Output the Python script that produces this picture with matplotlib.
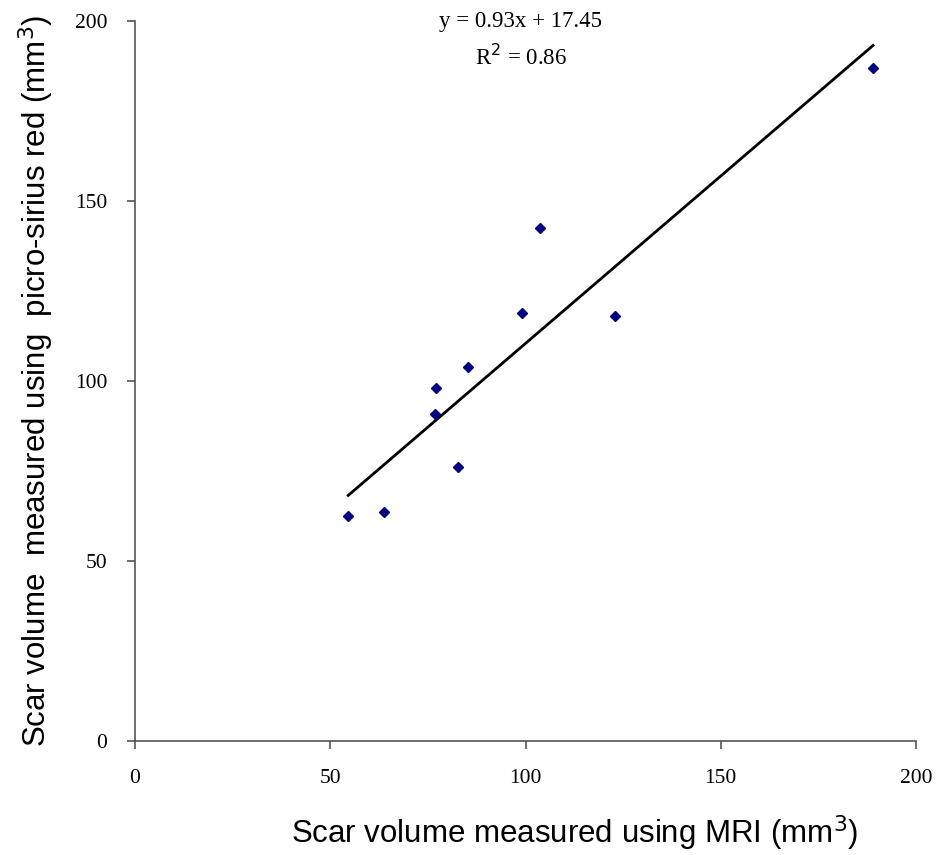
import numpy as np
import matplotlib
matplotlib.use('Agg')
from matplotlib import pyplot as plt

# data
mri = [54.6, 63.8, 77.2, 76.9, 82.8, 85.4, 99.0, 103.6, 122.8, 189.0]
psr = [62.5, 63.6, 98.1, 90.8, 76.1, 103.9, 118.9, 142.5, 118.1, 186.9]
slope = 0.93
intercept = 17.45
r2 = 0.86
ticks = [0, 50, 100, 150, 200]

fig = plt.figure(figsize=(9.4, 8.55), dpi=100)
ax = fig.add_axes([0.1436, 0.1333, 0.8309, 0.8421])

# trend line over the range of x values
xs = np.array([min(mri), max(mri)])
ax.plot(xs, slope * xs + intercept, color='black', lw=2)
ax.plot(mri, psr, 'D', color='#000080', ms=5.5, mec='#000080')

ax.set_xlim(0, 200)
ax.set_ylim(0, 200)
ax.set_xticks(ticks)
ax.set_yticks(ticks)
for s in ['top', 'right']:
    ax.spines[s].set_visible(False)
for s in ['left', 'bottom']:
    ax.spines[s].set_color('#555555')
    ax.spines[s].set_linewidth(1.2)
ax.tick_params(direction='out', length=6, width=1.2, color='#555555',
               labelsize=15.5, pad=14)
for lab in ax.get_xticklabels() + ax.get_yticklabels():
    lab.set_fontfamily('Liberation Serif')

fig.text(575 / 940, 1 - 833 / 855, 'Scar volume measured using MRI (mm$^3$)',
         fontsize=22.5, family='Liberation Sans', ha='center', va='center')
fig.text(36 / 940, 1 - 381 / 855,
         'Scar volume  measured using  picro-sirius red (mm$^3$)',
         fontsize=22.5, family='Liberation Sans', ha='center', va='center',
         rotation=90)

ax.text(0.494, 1.0, f'y = {slope:.2f}x + {intercept:.2f}', transform=ax.transAxes,
        ha='center', va='center', fontsize=16.5, family='Liberation Serif')
ax.text(0.494, 0.949, f'R$^2$ = {r2:.2f}', transform=ax.transAxes,
        ha='center', va='center', fontsize=16.5, family='Liberation Serif')

fig.savefig('out.png', dpi=100)
